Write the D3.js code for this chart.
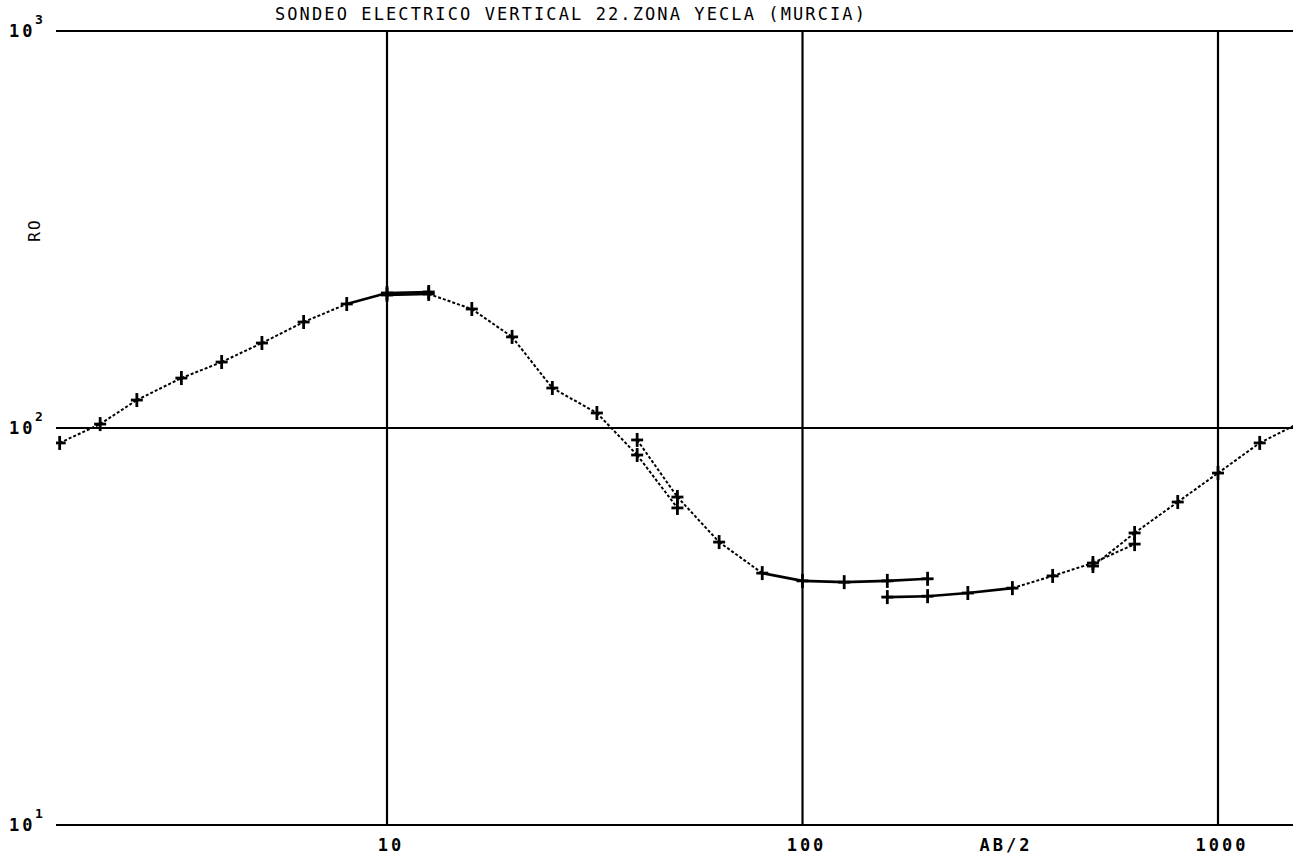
<!DOCTYPE html>
<html>
<head>
<meta charset="utf-8">
<script src="https://cdn.jsdelivr.net/npm/d3@7"></script>
<style>
  html, body { margin: 0; padding: 0; background: #fff; }
  svg { display: block; }
  text { font-family: "DejaVu Sans Mono", "Liberation Mono", monospace; fill: #000; }
</style>
</head>
<body>
<div id="chart"></div>
<script>
// sondeo electrico vertical 22 - AB/2 (m) vs RO (ohm.m), one array per tramo
const title = "SONDEO ELECTRICO VERTICAL 22.ZONA YECLA (MURCIA)";
const xTicks = [10, 100, 1000];
const xTickLabels = ["10", "100", "1000"];
const yTicks = [1000, 100, 10];
const yTickExp = ["3", "2", "1"];

const ab1 = [1.63, 2.04, 2.5, 3.2, 4, 5, 6.3, 8, 10, 12.6];
const ro1 = [91.7, 102.3, 117.6, 133.6, 146.6, 163.7, 184.9, 205.3, 218.8, 220.1];

const ab2 = [10, 12.6, 16, 20, 25, 32, 40, 50];
const ro2 = [216.3, 217.6, 199.4, 169.6, 126.1, 109.1, 85.5, 62.9];

const ab3 = [40, 50, 63, 80, 100, 126, 160, 200];
const ro3 = [93.3, 67.0, 51.6, 43.1, 41.2, 40.9, 41.2, 41.7];

const ab4 = [160, 200, 250, 320, 400, 500, 630];
const ro4 = [37.5, 37.7, 38.4, 39.5, 42.4, 45.7, 51.0];

const ab5 = [500, 630, 800, 1000, 1260, 1585];
const ro5 = [44.9, 54.4, 65.1, 77.0, 91.7, 103.5];

const tramos = [[ab1, ro1], [ab2, ro2], [ab3, ro3], [ab4, ro4], [ab5, ro5]]
  .map(([ab, ro]) => ab.map((d, i) => ({ ab: d, ro: ro[i] })));

const svgWidth = 1293, svgHeight = 854;
const plotLeft = 56, plotRight = 1293, plotTop = 31, plotBottom = 825;

const svg = d3.select('#chart').append('svg')
  .attr('width', svgWidth)
  .attr('height', svgHeight);

const x = d3.scaleLog().domain([10, 1000]).range([387, 1218]);
const y = d3.scaleLog().domain([10, 1000]).range([plotBottom, plotTop]);

svg.append('clipPath').attr('id', 'plot-clip')
  .append('rect')
  .attr('x', plotLeft).attr('y', 0)
  .attr('width', plotRight - plotLeft).attr('height', svgHeight);

// grid: the three decades each way
svg.append('g').selectAll('line')
  .data(yTicks)
  .join('line')
  .attr('x1', plotLeft).attr('x2', plotRight)
  .attr('y1', d => y(d)).attr('y2', d => y(d))
  .attr('stroke', '#000')
  .attr('stroke-width', 2.2);

svg.append('g').selectAll('line')
  .data(xTicks)
  .join('line')
  .attr('x1', d => x(d)).attr('x2', d => x(d))
  .attr('y1', plotTop).attr('y2', plotBottom)
  .attr('stroke', '#000')
  .attr('stroke-width', 2.2);

// y labels, 10 with the exponent up at the right of the zero
const yLab = svg.append('g').selectAll('g')
  .data(yTicks)
  .join('g')
  .attr('transform', d => "translate(0," + y(d) + ")");

yLab.append('text')
  .attr('x', 9)
  .attr('y', 6)
  .attr('font-size', 17)
  .attr('font-weight', 'bold')
  .attr('letter-spacing', 3)
  .text("10");

yLab.append('text')
  .attr('x', 35)
  .attr('y', -7)
  .attr('font-size', 13)
  .attr('font-weight', 'bold')
  .text((d, i) => yTickExp[i]);

// x labels
svg.append('g').selectAll('text')
  .data(xTicks)
  .join('text')
  .attr('x', d => x(d) + 4)
  .attr('y', 851)
  .attr('text-anchor', 'middle')
  .attr('font-size', 17)
  .attr('font-weight', 'bold')
  .attr('letter-spacing', 3)
  .text((d, i) => xTickLabels[i]);

svg.append('text')
  .attr('x', 1006)
  .attr('y', 851)
  .attr('text-anchor', 'middle')
  .attr('font-size', 17)
  .attr('font-weight', 'bold')
  .attr('letter-spacing', 3)
  .text("AB/2");

svg.append('text')
  .attr('transform', "translate(40,230) rotate(-90)")
  .attr('text-anchor', 'middle')
  .attr('font-size', 16)
  .attr('letter-spacing', 2)
  .text("RO");

svg.append('text')
  .attr('x', 571)
  .attr('y', 20)
  .attr('text-anchor', 'middle')
  .attr('font-size', 17)
  .attr('letter-spacing', 2.1)
  .text(title);

// curve: flat pieces came out solid on the plotter, steep ones dotted
const curves = svg.append('g').attr('clip-path', 'url(#plot-clip)');

function slope(d) {
  return Math.abs((y(d[1].ro) - y(d[0].ro)) / (x(d[1].ab) - x(d[0].ab)));
}

tramos.forEach(pts => {
  curves.append('g').selectAll('line')
    .data(d3.pairs(pts))
    .join('line')
    .attr('x1', d => x(d[0].ab)).attr('y1', d => y(d[0].ro))
    .attr('x2', d => x(d[1].ab)).attr('y2', d => y(d[1].ro))
    .attr('stroke', '#000')
    .attr('stroke-width', d => slope(d) > 0.3 ? 2 : 2.6)
    .attr('stroke-dasharray', d => slope(d) > 0.3 ? "3,2" : null);

  const marks = curves.append('g').selectAll('g')
    .data(pts)
    .join('g')
    .attr('transform', d => "translate(" + x(d.ab) + "," + y(d.ro) + ")");

  marks.append('line')
    .attr('x1', -6).attr('x2', 6).attr('y1', 0).attr('y2', 0)
    .attr('stroke', '#000').attr('stroke-width', 2.8);
  marks.append('line')
    .attr('x1', 0).attr('x2', 0).attr('y1', -7).attr('y2', 7)
    .attr('stroke', '#000').attr('stroke-width', 2.8);
});
</script>
</body>
</html>
